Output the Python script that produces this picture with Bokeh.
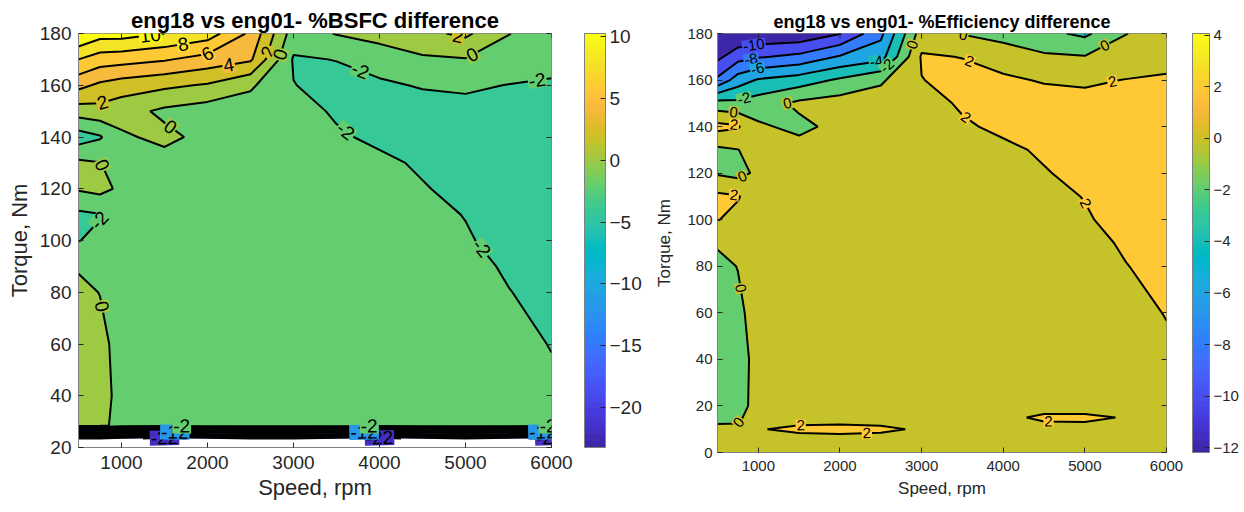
import math
import numpy as np
import contourpy
from bokeh.plotting import figure
from bokeh.layouts import row
from bokeh.models import (Range1d, FixedTicker, ColorBar, LinearColorMapper,
                          ColumnDataSource, LinearAxis)
from bokeh.core.properties import value
from bokeh.embed import file_html
from bokeh.resources import INLINE

# ---------------- data ----------------
speed = [500, 750, 1000, 1500, 2000, 2500, 3000, 3500, 4000, 4500, 5000, 5500, 6000]

torque_bsfc = [23.5, 28.5, 40, 60, 80, 90, 100, 110, 120, 130, 140, 150, 160, 170, 180]
bsfc_diff = [
    [-20, -20, -21, -23, -21, -20, -20, -21, -23, -21, -20, -21, -23],
    [0.6, 0.5, -0.7, -1.0, -1.0, -1.0, -1.0, -1.0, -1.0, -1.0, -1.0, -1.0, -1.2],
    [0.7, 0.6, -0.5, -1.0, -1.1, -1.1, -1.1, -1.1, -1.1, -1.1, -1.1, -1.2, -1.5],
    [0.7, 0.6, -0.8, -1.0, -1.1, -1.1, -1.1, -1.1, -1.1, -1.1, -1.0, -1.2, -2.1],
    [0.5, -0.05, -1.0, -1.0, -1.0, -1.0, -1.0, -1.0, -1.0, -1.1, -1.2, -1.95, -2.5],
    [-0.2, -0.8, -1.0, -1.0, -1.0, -1.0, -1.0, -1.0, -1.0, -1.2, -1.5, -2.2, -2.5],
    [-2.05, -1.6, -1.1, -1.0, -1.0, -1.0, -1.0, -1.0, -1.1, -1.3, -1.85, -2.5, -2.6],
    [-2.4, -2.1, -1.2, -0.9, -0.8, -0.9, -0.9, -1.0, -1.2, -1.6, -2.05, -2.5, -2.6],
    [0.2, 0.6, -0.4, -0.8, -0.8, -0.8, -0.9, -1.1, -1.4, -1.9, -2.4, -2.6, -2.6],
    [0.4, 0.05, -0.9, -0.8, -0.8, -0.9, -1.0, -1.3, -1.7, -2.2, -2.5, -2.6, -2.6],
    [-3.0, -2.2, -0.3, 0.5, -0.6, -0.8, -1.2, -1.8, -2.3, -2.6, -2.6, -2.6, -2.6],
    [1.0, 1.3, 0.8, -0.4, -1.0, -1.0, -1.4, -2.2, -2.7, -2.8, -2.6, -2.6, -2.6],
    [4.6, 3.6, 3.0, 2.4, 1.8, 0.3, -1.95, -2.6, -2.3, -1.85, -1.7, -2.05, -2.3],
    [8.0, 7.0, 6.8, 6.2, 5.2, 4.3, -2.2, -1.95, -1.2, -0.3, -0.1, -0.8, -1.2],
    [12.0, 10.8, 10.8, 10.0, 9.0, 5.6, -1.0, 0.1, 0.8, 1.5, 2.4, 0.05, -0.8],
]

torque_eff = [0, 5, 10, 15, 20, 40, 60, 80, 90, 100, 110, 120, 130, 140, 150, 160, 170, 180]
eff_diff = [
    [0.6, 0.7, 0.8, 1.0, 1.1, 1.1, 1.0, 1.0, 1.0, 1.0, 1.0, 1.0, 1.0],
    [0.5, 0.6, 0.9, 1.3, 1.4, 1.3, 1.1, 1.0, 1.0, 1.1, 1.1, 1.0, 1.0],
    [0.4, 0.3, 1.9, 2.35, 2.4, 2.3, 1.8, 1.1, 1.2, 1.4, 1.5, 1.3, 1.0],
    [-0.5, -0.3, 1.0, 1.3, 1.4, 1.3, 1.1, 1.2, 1.6, 2.3, 2.3, 1.9, 1.1],
    [-0.6, -0.6, 0.6, 1.0, 1.0, 1.0, 1.0, 1.0, 1.1, 1.3, 1.3, 1.2, 1.1],
    [-0.7, -0.6, 0.5, 1.0, 1.1, 1.1, 1.1, 1.1, 1.1, 1.1, 1.1, 1.2, 1.5],
    [-0.7, -0.4, 0.8, 1.0, 1.1, 1.1, 1.1, 1.1, 1.1, 1.1, 1.0, 1.2, 2.1],
    [-0.5, 0.05, 1.0, 1.0, 1.0, 1.0, 1.0, 1.0, 1.0, 1.1, 1.2, 1.95, 2.5],
    [0.2, 0.8, 1.0, 1.0, 1.0, 1.0, 1.0, 1.0, 1.0, 1.2, 1.5, 2.2, 2.5],
    [2.05, 1.6, 1.1, 1.0, 1.0, 1.0, 1.0, 1.0, 1.1, 1.3, 1.85, 2.5, 2.6],
    [2.4, 2.1, 1.2, 0.9, 0.8, 0.9, 0.9, 1.0, 1.2, 1.6, 2.05, 2.5, 2.6],
    [-0.2, -0.6, 0.4, 0.8, 0.8, 0.8, 0.9, 1.1, 1.4, 1.9, 2.4, 2.6, 2.6],
    [-0.4, -0.05, 0.9, 0.8, 0.8, 0.9, 1.0, 1.3, 1.7, 2.2, 2.5, 2.6, 2.6],
    [2.6, 2.2, 0.3, -0.5, 0.6, 0.8, 1.2, 1.8, 2.3, 2.6, 2.6, 2.6, 2.6],
    [-1.2, -1.5, -1.0, 0.4, 0.9, 1.0, 1.4, 2.2, 2.7, 2.8, 2.6, 2.6, 2.6],
    [-7.6, -5.0, -3.8, -3.0, -1.7, -0.3, 1.95, 2.6, 2.3, 1.85, 1.7, 2.05, 2.3],
    [-10.5, -8.8, -8.2, -7.5, -5.8, -4.8, 2.2, 1.95, 1.2, 0.3, 0.1, 0.8, 1.2],
    [-11.9, -11.8, -11.6, -11.5, -10.1, -6.5, 1.0, -0.1, -0.8, -1.5, -2.4, -0.05, 0.8],
]

bsfc_levels = [-22, -20, -18, -16, -14, -12, -10, -8, -6, -4, -2, 0, 2, 4, 6, 8, 10]
eff_levels = [-12, -10, -8, -6, -4, -2, 0, 2]
bsfc_clim = (-23.26, 10.28)
eff_clim = (-12.19, 4.07)

x_ticks = [1000, 2000, 3000, 4000, 5000, 6000]
bsfc_y_ticks = [20, 40, 60, 80, 100, 120, 140, 160, 180]
eff_y_ticks = [0, 20, 40, 60, 80, 100, 120, 140, 160, 180]
bsfc_cbar_ticks = [-20, -15, -10, -5, 0, 5, 10]
eff_cbar_ticks = [-12, -10, -8, -6, -4, -2, 0, 2, 4]

# contour label anchors: (level, approx speed, approx torque)
bsfc_labels = [
    (10, 1340, 178), (8, 1720, 175.4), (6, 2010, 171.6), (4, 2245, 168),
    (2, 790, 152), (0, 1570, 144), (2, 2700, 173), (0, 2790, 172.5),
    (0, 770, 129), (-2, 770, 107), (0, 770, 74.5), (-2, 3780, 166),
    (-2, 3600, 142), (-2, 5190, 97), (-2, 5830, 163), (0, 5100, 170.5),
    (2, 4910, 178.5),
    (-22, 1500, 23.8), (-12, 1620, 25.8), (-2, 1700, 28),
    (-22, 4000, 23.8), (-12, 3820, 25.8), (-2, 3880, 28),
    (-22, 5980, 23.8), (-12, 5900, 25.8), (-2, 5960, 28),
]
eff_labels = [
    (-10, 940, 176), (-8, 905, 170), (-6, 985, 165.5), (-4, 2435, 170.5),
    (-2, 2535, 167.7), (0, 2860, 175.5), (-2, 820, 152.6), (0, 700, 147),
    (2, 700, 140), (0, 1335, 152), (0, 775, 121), (2, 700, 110),
    (2, 3610, 170.5), (2, 3560, 144.8), (2, 4920, 105.4), (2, 5340, 159),
    (0, 5265, 173.4), (0, 3510, 179), (0, 800, 70.6), (0, 780, 12.4),
    (2, 1520, 10.2), (2, 2330, 7.5), (2, 4555, 13),
]

# ---------------- styling ----------------
FONT = "Liberation Sans"
INK = "#262626"
FRAME = "#808080"
PARULA = [
    (0.2422, 0.1504, 0.6603), (0.2504, 0.1650, 0.7076), (0.2578, 0.1818, 0.7511), (0.2647, 0.1978, 0.7952),
    (0.2706, 0.2147, 0.8364), (0.2751, 0.2342, 0.8710), (0.2783, 0.2559, 0.8991), (0.2803, 0.2782, 0.9221),
    (0.2813, 0.3006, 0.9414), (0.2810, 0.3228, 0.9579), (0.2795, 0.3447, 0.9717), (0.2760, 0.3667, 0.9829),
    (0.2699, 0.3892, 0.9906), (0.2602, 0.4123, 0.9952), (0.2440, 0.4358, 0.9988), (0.2206, 0.4603, 0.9973),
    (0.1963, 0.4847, 0.9892), (0.1834, 0.5074, 0.9798), (0.1786, 0.5289, 0.9682), (0.1764, 0.5499, 0.9520),
    (0.1687, 0.5703, 0.9359), (0.1540, 0.5902, 0.9218), (0.1460, 0.6091, 0.9079), (0.1380, 0.6276, 0.8973),
    (0.1248, 0.6459, 0.8883), (0.1113, 0.6635, 0.8763), (0.0952, 0.6798, 0.8598), (0.0689, 0.6948, 0.8394),
    (0.0297, 0.7082, 0.8163), (0.0036, 0.7203, 0.7917), (0.0067, 0.7312, 0.7660), (0.0433, 0.7411, 0.7394),
    (0.0964, 0.7500, 0.7120), (0.1408, 0.7584, 0.6842), (0.1717, 0.7670, 0.6554), (0.1938, 0.7758, 0.6251),
    (0.2161, 0.7843, 0.5923), (0.2470, 0.7918, 0.5567), (0.2906, 0.7973, 0.5188), (0.3406, 0.8008, 0.4789),
    (0.3909, 0.8029, 0.4354), (0.4456, 0.8024, 0.3909), (0.5044, 0.7993, 0.3480), (0.5616, 0.7942, 0.3045),
    (0.6174, 0.7876, 0.2612), (0.6720, 0.7793, 0.2227), (0.7242, 0.7698, 0.1910), (0.7738, 0.7598, 0.1646),
    (0.8203, 0.7498, 0.1535), (0.8634, 0.7406, 0.1596), (0.9035, 0.7330, 0.1774), (0.9393, 0.7288, 0.2100),
    (0.9728, 0.7298, 0.2394), (0.9956, 0.7434, 0.2371), (0.9970, 0.7659, 0.2199), (0.9952, 0.7893, 0.2028),
    (0.9892, 0.8136, 0.1885), (0.9786, 0.8386, 0.1766), (0.9676, 0.8639, 0.1643), (0.9610, 0.8890, 0.1537),
    (0.9597, 0.9135, 0.1423), (0.9628, 0.9373, 0.1265), (0.9691, 0.9606, 0.1064), (0.9769, 0.9839, 0.0805),
]


def to_hex(rgb):
    return "#%02x%02x%02x" % tuple(int(round(c * 255)) for c in rgb)


PALETTE = [to_hex(c) for c in PARULA]


def cmap(v, clim):
    m = len(PALETTE)
    i = int(math.floor((v - clim[0]) / (clim[1] - clim[0]) * m))
    return PALETTE[min(max(i, 0), m - 1)]


def snap_labels(X, Y, Z, specs, sx, sy):
    gen = contourpy.contour_generator(X, Y, Z, line_type=contourpy.LineType.Separate)
    xs, ys, ts, angs = [], [], [], []
    for lev, gx, gy in specs:
        best = None
        gpx, gpy = gx * sx, gy * sy
        for ln in gen.lines(lev):
            px = ln[:, 0] * sx
            py = ln[:, 1] * sy
            for i in range(len(ln) - 1):
                ax, ay, bx, by = px[i], py[i], px[i + 1], py[i + 1]
                dx, dy = bx - ax, by - ay
                l2 = dx * dx + dy * dy
                t = 0.0 if l2 == 0 else max(0.0, min(1.0, ((gpx - ax) * dx + (gpy - ay) * dy) / l2))
                qx, qy = ax + t * dx, ay + t * dy
                d = (qx - gpx) ** 2 + (qy - gpy) ** 2
                if best is None or d < best[0]:
                    best = (d, qx / sx, qy / sy, math.atan2(dy, dx))
        if best is None:
            continue
        a = best[3]
        if a > math.pi / 2:
            a -= math.pi
        if a < -math.pi / 2:
            a += math.pi
        xs.append(best[1]); ys.append(best[2]); ts.append(str(lev)); angs.append(a)
    return xs, ys, ts, angs


def right_tick_axis(ticks, standoff):
    """Right-edge axis drawing only inward ticks; its (white, tiny) labels space out the colour bar."""
    ax = LinearAxis(ticker=FixedTicker(ticks=ticks))
    ax.axis_line_color = None
    ax.major_tick_in = 5
    ax.major_tick_out = 0
    ax.major_tick_line_color = INK
    ax.minor_tick_line_color = None
    ax.major_label_text_font_size = "1px"
    ax.major_label_text_color = "white"
    ax.major_label_standoff = standoff
    return ax


def build(title, torque, grid, levels, clim, yr, yticks, cticks, labels, g):
    X, Y = np.meshgrid(np.array(speed, float), np.array(torque, float))
    Z = np.array(grid, float)
    xr = (500, 6000)
    p = figure(frame_width=g["fw"], frame_height=g["fh"],
               x_range=Range1d(*xr), y_range=Range1d(*yr),
               output_backend="svg", toolbar_location=None,
               min_border_left=g["ml"], min_border_right=g["mr"],
               min_border_top=g["mt"], min_border_bottom=g["mb"])
    p.background_fill_color = "white"
    p.border_fill_color = "white"
    p.outline_line_color = FRAME
    p.xgrid.visible = False
    p.ygrid.visible = False

    p.title.text = title
    p.title.align = "center"
    p.title.text_font = FONT
    p.title.text_font_size = g["tfs"]
    p.title.text_font_style = "bold"
    p.title.text_color = "black"
    p.title.standoff = g["tst"]

    for ax, ticks, lab, lst in ((p.xaxis, x_ticks, "Speed, rpm", g["lstx"]),
                                (p.yaxis, yticks, "Torque, Nm", g["lsty"])):
        ax.ticker = FixedTicker(ticks=ticks)
        ax.axis_label = lab
        ax.axis_label_text_font = FONT
        ax.axis_label_text_font_size = g["lfs"]
        ax.axis_label_text_font_style = "normal"
        ax.axis_label_text_color = INK
        ax.axis_label_standoff = lst
        ax.major_label_text_font = FONT
        ax.major_label_text_font_size = g["kfs"]
        ax.major_label_text_color = INK
        ax.major_tick_in = 5
        ax.major_tick_out = 0
        ax.major_tick_line_color = INK
        ax.minor_tick_line_color = None
        ax.axis_line_color = FRAME
    p.xaxis.major_label_standoff = g["kstx"]
    p.yaxis.major_label_standoff = g["ksty"]

    # filled contours (Matlab-like: region colour from its lower level)
    fill_levels = [-1000.0] + list(levels) + [1000.0]
    fill_colors = [cmap(clim[0], clim)] + [cmap(lv, clim) for lv in levels]
    p.contour(X, Y, Z, levels=fill_levels, fill_color=fill_colors, line_color=None)
    p.contour(X, Y, Z, levels=list(levels), line_color="black", line_width=2)

    # contour labels
    sx = g["fw"] / (xr[1] - xr[0])
    sy = g["fh"] / (yr[1] - yr[0])
    lx, ly, lt, la = snap_labels(X, Y, Z, labels, sx, sy)
    bg = [cmap(float(t), clim) for t in lt]
    src = ColumnDataSource(dict(x=lx, y=ly, t=lt, a=la, bg=bg))
    p.text(x="x", y="y", text="t", angle="a", source=src,
           text_font=value(FONT), text_font_size=g["cfs"], text_color="black",
           text_align="center", text_baseline="middle",
           background_fill_color="bg", padding=1)

    # inward ticks on the top edge
    dy = 5 / sy
    p.segment(x0=x_ticks, y0=[yr[1]] * len(x_ticks), x1=x_ticks, y1=[yr[1] - dy] * len(x_ticks),
              line_color=INK, line_width=1)
    # inward ticks on the right edge (+ spacing before the colour bar)
    p.add_layout(right_tick_axis(yticks, g["cbgap"]), "right")

    mapper = LinearColorMapper(palette=PALETTE, low=clim[0], high=clim[1])
    cb = ColorBar(color_mapper=mapper, ticker=FixedTicker(ticks=cticks),
                  width=g["cbw"], height=g["fh"], margin=0, padding=0,
                  label_standoff=4, major_label_text_font=FONT,
                  major_label_text_font_size=g["kfs"], major_label_text_color=INK,
                  major_tick_line_color=INK, major_tick_in=5, major_tick_out=0,
                  minor_tick_line_color=None, bar_line_color=FRAME,
                  border_line_color=None, background_fill_color=None)
    p.add_layout(cb, "right")
    return p


g_left = dict(fw=473, fh=414, ml=78, mr=96, mt=33, mb=62, tfs="22px", tst=2,
              lfs="22px", lstx=3, lsty=5, kfs="19px", kstx=8, ksty=7, cfs="19px",
              cbw=21, cbgap=28)
g_right = dict(fw=449, fh=419, ml=70, mr=0, mt=33, mb=57, tfs="18px", tst=3,
               lfs="17px", lstx=5, lsty=10, kfs="15px", kstx=8, ksty=5, cfs="15px",
               cbw=17, cbgap=21)

p1 = build("eng18 vs eng01- %BSFC difference", torque_bsfc, bsfc_diff, bsfc_levels,
           bsfc_clim, (20, 180), bsfc_y_ticks, bsfc_cbar_ticks, bsfc_labels, g_left)
p2 = build("eng18 vs eng01- %Efficiency difference", torque_eff, eff_diff, eff_levels,
           eff_clim, (0, 180), eff_y_ticks, eff_cbar_ticks, eff_labels, g_right)

layout = row(p1, p2)
open("out.html", "w").write(file_html(layout, INLINE, title="eng18 vs eng01"))
